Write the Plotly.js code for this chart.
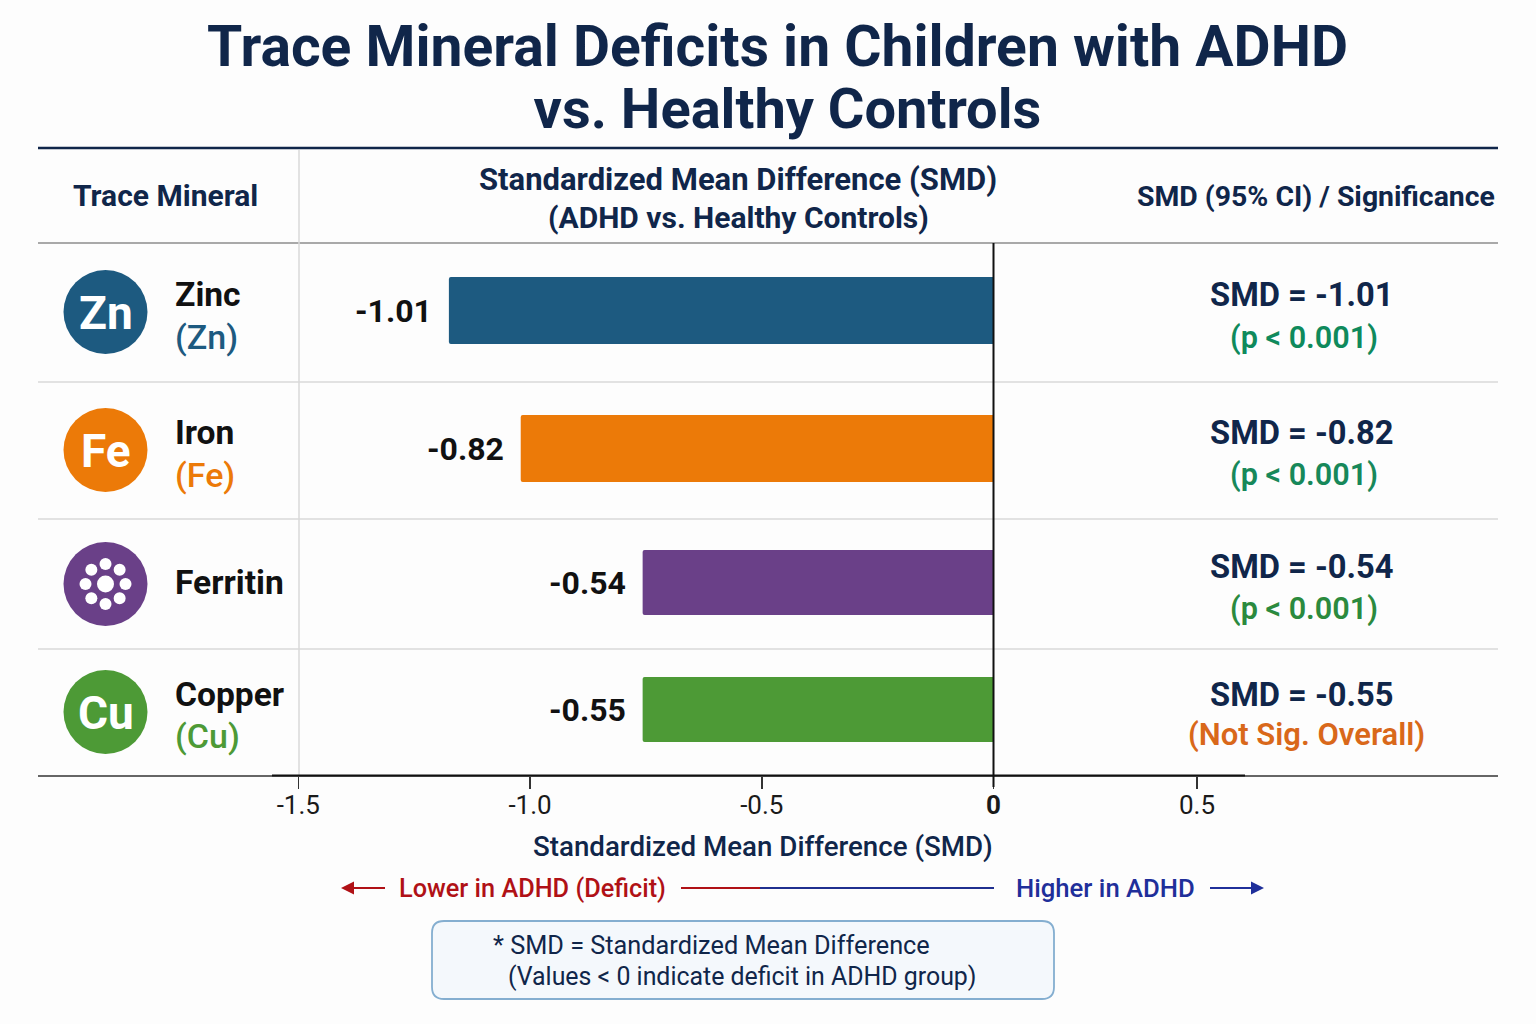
<!DOCTYPE html>
<html>
<head>
<meta charset="utf-8">
<script src="https://cdn.plot.ly/plotly-3.0.1.min.js"></script>
<style>html,body{margin:0;padding:0;background:#fdfdfd}</style>
</head>
<body>
<div id="chart" style="width:1536px;height:1024px"></div>
<script>
// ---- data ----
const minerals = ['Zinc', 'Iron', 'Ferritin', 'Copper'];
const symbols = ['Zn', 'Fe', '', 'Cu'];
const subLabels = ['(Zn)', '(Fe)', '', '(Cu)'];
const barExtent = [-1.175, -1.02, -0.757, -0.757];
const smdLabels = ['-1.01', '-0.82', '-0.54', '-0.55'];
const significance = ['(p < 0.001)', '(p < 0.001)', '(p < 0.001)', '(Not Sig. Overall)'];
const tickValues = [-1.5, -1.0, -0.5, 0, 0.439];
const tickLabels = ['-1.5', '-1.0', '-0.5', '<b>0</b>', '0.5'];

// ---- styles and page layout ----
const colors = ['#1d5a80', '#ec7a08', '#6a4088', '#4d9a36'];
const sigColors = ['#0f8a5c', '#17885a', '#2b8a3e', '#d9681a'];
const sigSize = [30.6, 30.6, 30.6, 31];
const sigX = [1304, 1304, 1304, 1306];
const barOffset = [-0.244, -0.207, -0.192, -0.237];
const barWidth = [0.504, 0.504, 0.489, 0.489];
const labelShift = [-1.5, -6.5, -7.5, -1.5];
const iconY = [312, 450, 584, 712];
const nameY = [294, 432, 582, 694];
const subY = [337, 475, 0, 736];
const smdY = [295, 433, 567, 695];
const sigY = [338, 475, 609, 734];
const NAVY = '#10264a';
const FONT = 'Roboto, sans-serif';
const L = 38, R = 1498, T = 243, B = 775;
const px = x => (x - L) / (R - L);
const py = y => 1 - (y - T) / (B - T);

function note(x, y, text, size, color, weight, anchor) {
  return {xref: 'paper', yref: 'paper', x: px(x), y: py(y), text, showarrow: false,
    xanchor: anchor || 'center', yanchor: 'middle',
    font: {family: FONT, size, color, weight: weight || 400}};
}
function hline(y, x0, x1, color, width) {
  return {type: 'line', xref: 'paper', yref: 'paper', x0: px(x0), x1: px(x1), y0: py(y), y1: py(y),
    line: {color, width}, layer: 'below'};
}
function vline(x, y0, y1, color, width, layer) {
  return {type: 'line', xref: 'paper', yref: 'paper', x0: px(x), x1: px(x), y0: py(y0), y1: py(y1),
    line: {color, width}, layer: layer || 'below'};
}
function disc(cx, cy, r, color) {
  return {type: 'circle', xref: 'paper', yref: 'paper', x0: px(cx - r), x1: px(cx + r),
    y0: py(cy + r), y1: py(cy - r), fillcolor: color, line: {width: 0}, layer: 'above'};
}
function arrowHead(x, y, back, color) {
  return {xref: 'paper', yref: 'paper', x: px(x), y: py(y), axref: 'pixel', ayref: 'pixel',
    ax: back, ay: 0, text: '', showarrow: true, arrowhead: 2, arrowsize: 1.3, arrowwidth: 2, arrowcolor: color};
}

const shapes = [
  hline(148, 38, 1498, '#10264a', 2.5),
  hline(243, 38, 1498, '#a9a9a9', 2),
  hline(382, 38, 1498, '#d9d9d9', 1.5),
  hline(519, 38, 1498, '#d9d9d9', 1.5),
  hline(649, 38, 1498, '#d9d9d9', 1.5),
  vline(299, 150, 775, '#d9d9d9', 1.5),
  vline(993.5, 243, 787, '#111111', 2, 'above'),
  hline(888, 681, 760, '#b01116', 2),
  hline(888, 760, 994, '#1f2f8f', 2),
  hline(888, 345, 385, '#b01116', 2),
  hline(888, 1210, 1260, '#1f2f9a', 2),
  Object.assign(hline(775.5, 272, 1245, '#111111', 2), {layer: 'above'}),
  {type: 'path', xref: 'paper', yref: 'paper', layer: 'below', fillcolor: '#f4f8fc',
   line: {color: '#84aed0', width: 1.8},
   path: (() => {
     const x0 = 432, x1 = 1054, y0 = 921, y1 = 999, r = 12;
     const p = (x, y) => px(x) + ' ' + py(y);
     return 'M ' + p(x0 + r, y0) + ' L ' + p(x1 - r, y0) + ' Q ' + p(x1, y0) + ' ' + p(x1, y0 + r) +
       ' L ' + p(x1, y1 - r) + ' Q ' + p(x1, y1) + ' ' + p(x1 - r, y1) +
       ' L ' + p(x0 + r, y1) + ' Q ' + p(x0, y1) + ' ' + p(x0, y1 - r) +
       ' L ' + p(x0, y0 + r) + ' Q ' + p(x0, y0) + ' ' + p(x0 + r, y0) + ' Z';
   })()}
];

const annotations = [
  note(165, 196, 'Trace Mineral', 30, NAVY, 700),
  note(738, 179, 'Standardized Mean Difference (SMD)', 31, NAVY, 700),
  note(738, 217, '(ADHD vs. Healthy Controls)', 30, NAVY, 700),
  note(1316, 197, 'SMD (95% CI) / Significance', 28.4, NAVY, 700),
  note(763, 846, 'Standardized Mean Difference (SMD)', 27.7, NAVY, 500),
  note(532, 888, 'Lower in ADHD (Deficit)', 25.3, '#b01116', 500),
  note(1105.5, 888, 'Higher in ADHD', 25.7, '#1f2f9a', 500),
  note(491, 945, '* SMD = Standardized Mean Difference', 25.3, NAVY, 400, 'left'),
  note(505.5, 976, '(Values < 0 indicate deficit in ADHD group)', 24.9, NAVY, 400, 'left'),
  arrowHead(341, 888, 14, '#b01116'),
  arrowHead(1264, 888, -14, '#1f2f9a')
];

minerals.forEach((m, i) => {
  shapes.push(disc(105.5, iconY[i], 42, colors[i]));
  if (symbols[i]) annotations.push(note(105.5, iconY[i] + 1, symbols[i], 46, '#ffffff', 700));
  annotations.push(note(173, nameY[i], m, 33.6, '#111111', 700, 'left'));
  if (subLabels[i]) annotations.push(note(173, subY[i], subLabels[i], 34, colors[i], 500, 'left'));
  annotations.push({xref: 'x', yref: 'y', x: barExtent[i], y: m, xshift: -15, yshift: labelShift[i],
    text: smdLabels[i], showarrow: false, xanchor: 'right', yanchor: 'middle',
    font: {family: FONT, size: 32, color: '#111111', weight: 700}});
  annotations.push(note(1301.5, smdY[i], 'SMD = ' + smdLabels[i], 32.7, NAVY, 700));
  annotations.push(note(sigX[i], sigY[i], significance[i], sigSize[i], sigColors[i], 600));
});

// Ferritin icon: central core with a ring of eight iron dots
shapes.push(disc(105.5, iconY[2], 8.5, '#ffffff'));
for (let k = 0; k < 8; k++) {
  const a = k * Math.PI / 4;
  shapes.push(disc(105.5 + 20 * Math.cos(a), iconY[2] + 20 * Math.sin(a), 6, '#ffffff'));
}

const trace = {
  type: 'bar', orientation: 'h', x: barExtent, y: minerals,
  width: barWidth, offset: barOffset,
  marker: {color: colors, line: {width: 0}},
  hoverinfo: 'skip', showlegend: false
};

const layout = {
  width: 1536, height: 1024, autosize: false,
  margin: {l: L, r: 1536 - R, t: T, b: 1024 - B, pad: 0},
  paper_bgcolor: '#fdfdfd', plot_bgcolor: 'rgba(0,0,0,0)',
  font: {family: FONT},
  title: {text: '<span style="font-size:57px">Trace Mineral Deficits in Children with ADHD</span><br>' +
      '<span style="font-size:80px">\u00a0</span><span style="font-size:56px">vs. Healthy Controls</span>',
    x: 777.5 / 1536, xref: 'container', xanchor: 'center',
    y: 1 - 66 / 1024, yref: 'container', yanchor: 'middle',
    font: {family: FONT, size: 47.7, color: NAVY, weight: 700}},
  barcornerradius: 2,
  xaxis: {range: [(L - 993.5) / 463.5, (R - 993.5) / 463.5], tickmode: 'array',
    tickvals: tickValues, ticktext: tickLabels, ticks: 'outside', ticklen: 12, tickwidth: 1.5,
    tickcolor: '#333333', showgrid: false, zeroline: false, showline: true, linecolor: '#666666',
    linewidth: 1.5, automargin: false, ticklabelstandoff: -6,
    tickfont: {family: FONT, size: 26, color: '#1a1a1a'}},
  yaxis: {type: 'category', categoryorder: 'array', categoryarray: minerals, range: [3.5, -0.5],
    showticklabels: false, ticks: '', showgrid: false, zeroline: false, showline: false, automargin: false},
  shapes, annotations, showlegend: false
};

Plotly.newPlot('chart', [trace], layout, {displayModeBar: false, staticPlot: true});
</script>
</body>
</html>
